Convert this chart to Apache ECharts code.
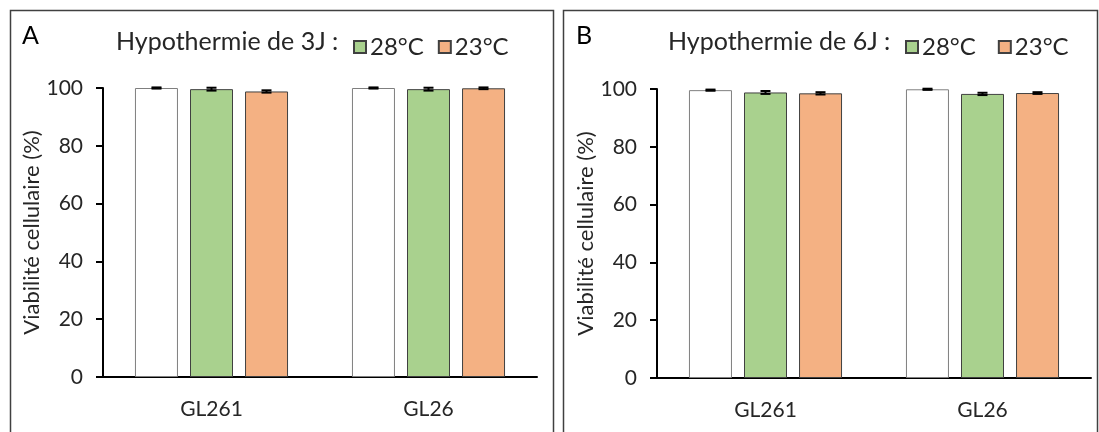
<!DOCTYPE html>
<html>
<head>
    <meta charset="utf-8">
    <title>Viabilité cellulaire</title>
    <script src="https://cdn.jsdelivr.net/npm/echarts@6/dist/echarts.min.js"></script>
    <style>
        body { margin: 0; background: #fff; }
    </style>
</head>
<body>
<div id="main" style="width: 1099px; height: 432px;"></div>
<script type="text/javascript">
    // donnees
    var categories = ['GL261', 'GL26'];
    var yTicks = [0, 20, 40, 60, 80, 100];

    // panneau A : hypothermie de 3 jours
    var ctrlA = [100, 100];
    var ctrlErrA = [0.2, 0.2];
    var t28A = [99.6, 99.6];
    var t28ErrA = [0.5, 0.5];
    var t23A = [98.8, 99.9];
    var t23ErrA = [0.4, 0.3];

    // panneau B : hypothermie de 6 jours
    var ctrlB = [99.6, 99.9];
    var ctrlErrB = [0.2, 0.2];
    var t28B = [98.8, 98.3];
    var t28ErrB = [0.5, 0.4];
    var t23B = [98.5, 98.6];
    var t23ErrB = [0.4, 0.3];

    var myChart = echarts.init(document.getElementById('main'));

    var font = 'Lato, "Open Sans", sans-serif';
    var textColor = '#262626';
    var barW = 43;
    var step = 55; // distance entre centres de barres

    var colors = { ctrl: '#ffffff', t28: '#a9d18e', t23: '#f4b183' };

    function barSeries(name, data, color, border, idx) {
        return {
            name: name,
            type: 'bar',
            xAxisIndex: idx,
            yAxisIndex: idx,
            data: data,
            barWidth: barW,
            barGap: '28%',
            itemStyle: { color: color, borderColor: border, borderWidth: 1 },
            emphasis: { disabled: true },
            z: 2
        };
    }

    function errSeries(values, errs, pos, idx) {
        var d = [];
        for (var i = 0; i < values.length; i++) d.push([i, values[i], errs[i]]);
        return {
            type: 'custom',
            xAxisIndex: idx,
            yAxisIndex: idx,
            data: d,
            z: 5,
            silent: true,
            renderItem: function(params, api) {
                var hi = api.coord([api.value(0), api.value(1) + api.value(2)]);
                var lo = api.coord([api.value(0), api.value(1) - api.value(2)]);
                var x = hi[0] + pos * step;
                var st = { stroke: '#000', lineWidth: 2 };
                return {
                    type: 'group',
                    children: [
                        { type: 'line', shape: { x1: x, y1: hi[1], x2: x, y2: lo[1] }, style: st },
                        { type: 'line', shape: { x1: x - 5, y1: hi[1], x2: x + 5, y2: hi[1] }, style: st },
                        { type: 'line', shape: { x1: x - 5, y1: lo[1], x2: x + 5, y2: lo[1] }, style: st }
                    ]
                };
            }
        };
    }

    function xAxisDef(idx) {
        return {
            type: 'category',
            gridIndex: idx,
            data: categories,
            axisLine: { lineStyle: { color: '#000', width: 2 } },
            axisTick: { show: false },
            axisLabel: { color: textColor, fontSize: 21, fontFamily: font, margin: 22 }
        };
    }

    function yAxisDef(idx) {
        return {
            type: 'value',
            gridIndex: idx,
            min: yTicks[0],
            max: yTicks[yTicks.length - 1],
            interval: 20,
            name: 'Viabilité cellulaire (%)',
            nameLocation: 'middle',
            nameGap: 57,
            nameTextStyle: { color: textColor, fontSize: 22, fontFamily: font },
            axisLine: { show: true, lineStyle: { color: '#000', width: 2 } },
            axisTick: { show: true, length: 7, lineStyle: { color: '#000', width: 2 } },
            axisLabel: { color: textColor, fontSize: 21, fontFamily: font, margin: 20 },
            splitLine: { show: false }
        };
    }

    var legendText = { color: textColor, fontSize: 24, fontFamily: font, padding: [0, 0, 0, -1] };

    option = {
        backgroundColor: '#fff',
        animation: false,
        grid: [
            { left: 103, right: 562, top: 88, bottom: 55 },
            { left: 657, right: 8, top: 89, bottom: 54 }
        ],
        xAxis: [xAxisDef(0), xAxisDef(1)],
        yAxis: [yAxisDef(0), yAxisDef(1)],
        legend: [
            {
                data: ['28°C', '23°C'],
                left: 348, top: 30,
                icon: 'rect', itemWidth: 12, itemHeight: 12, itemGap: 14,
                textStyle: legendText, selectedMode: false
            },
            {
                data: ['28°C', '23°C'],
                left: 900, top: 30,
                icon: 'rect', itemWidth: 12, itemHeight: 12, itemGap: 22,
                textStyle: legendText, selectedMode: false
            }
        ],
        graphic: [
            { type: 'rect', shape: { x: 10.5, y: 10.5, width: 543, height: 440 },
              style: { fill: 'none', stroke: '#404040', lineWidth: 1.5 }, z: -1 },
            { type: 'rect', shape: { x: 563.5, y: 10.5, width: 534, height: 440 },
              style: { fill: 'none', stroke: '#404040', lineWidth: 1.5 }, z: -1 },
            { type: 'text', left: 22, top: 23,
              style: { text: 'A', fill: '#000', font: '25px ' + font } },
            { type: 'text', left: 576, top: 23,
              style: { text: 'B', fill: '#000', font: '25px ' + font } },
            { type: 'text', left: 116, top: 29,
              style: { text: 'Hypothermie de 3J :', fill: textColor, font: '25px ' + font } },
            { type: 'text', left: 668, top: 29,
              style: { text: 'Hypothermie de 6J :', fill: textColor, font: '25px ' + font } }
        ],
        series: [
            barSeries('Contrôle', ctrlA, colors.ctrl, '#7f7f7f', 0),
            barSeries('28°C', t28A, colors.t28, '#404040', 0),
            barSeries('23°C', t23A, colors.t23, '#404040', 0),
            errSeries(ctrlA, ctrlErrA, -1, 0),
            errSeries(t28A, t28ErrA, 0, 0),
            errSeries(t23A, t23ErrA, 1, 0),
            barSeries('Contrôle', ctrlB, colors.ctrl, '#7f7f7f', 1),
            barSeries('28°C', t28B, colors.t28, '#404040', 1),
            barSeries('23°C', t23B, colors.t23, '#404040', 1),
            errSeries(ctrlB, ctrlErrB, -1, 1),
            errSeries(t28B, t28ErrB, 0, 1),
            errSeries(t23B, t23ErrB, 1, 1)
        ]
    };

    myChart.setOption(option);
</script>
</body>
</html>
